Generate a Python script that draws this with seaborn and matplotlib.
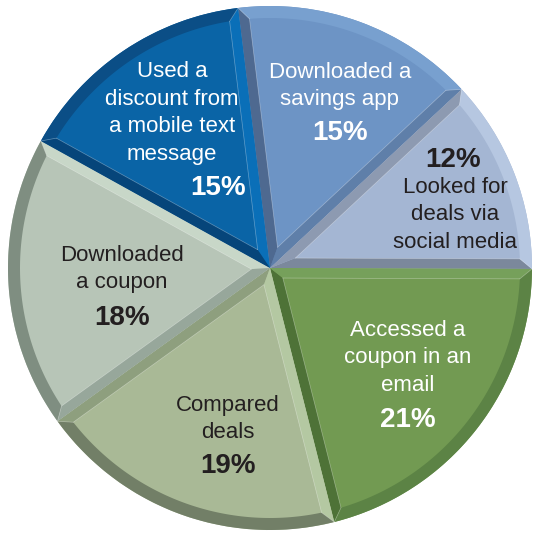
import numpy as np
import matplotlib
matplotlib.use("Agg")
import matplotlib.pyplot as plt
from matplotlib.patches import Polygon
import seaborn as sns

sns.set_theme(style="white")
plt.rcParams['font.family'] = ['Liberation Sans Narrow', 'Liberation Sans', 'DejaVu Sans']

# ---- data (clockwise from the top) ----
categories = ["Downloaded a\nsavings app", "Looked for\ndeals via\nsocial media",
              "Accessed a\ncoupon in an\nemail", "Compared\ndeals",
              "Downloaded\na coupon", "Used a\ndiscount from\na mobile text\nmessage"]
values = [15, 12, 21, 19, 18, 15]
pct_labels = ["15%", "12%", "21%", "19%", "18%", "15%"]

# ---- styles ----
face_colors = ["#6d94c5", "#a4b6d3", "#729a52", "#a9b996", "#b7c5b7", "#0a64a6"]
rim_colors = ["#78a0cf", "#b6c7e1", "#5c8345", "#727f67", "#7f8e81", "#0b4e86"]
side1_colors = ["#5f7fa9", "#7b889c", "#4e7237", "#8e9f7e", "#c8d7c8", "#0a6fb8"]  # at theta1
side2_colors = ["#4e6990", "#8d9ab1", "#76a05b", "#b4c8a2", "#97a79b", "#06457a"]  # at theta2
text_colors = ["white", "#231f20", "white", "#231f20", "#231f20", "white"]
# label layout (pixel centres, y measured from top)
label_pos = [(340, 86), (455, 215), (408, 358), (228, 419), (122, 269), (172, 113)]
pct_pos = [(340, 133), (453, 160), (408, 420), (228, 466), (122, 318), (218, 188)]

W = 535
cx, cy, R = 270, W - 268, 262
rim_w, side_w = 12, 10

fig = plt.figure(figsize=(5.35, 5.35), dpi=100)
ax = fig.add_axes([0, 0, 1, 1])
wedges, _ = ax.pie(values, colors=face_colors, startangle=97, counterclock=False,
                   center=(cx, cy), radius=R, wedgeprops=dict(linewidth=0))


def u(deg):
    a = np.deg2rad(deg)
    return np.array([np.cos(a), np.sin(a)])


O = np.array([cx, cy], dtype=float)
for i, w in enumerate(wedges):
    t1, t2 = w.theta1, w.theta2
    half = np.deg2rad(t2 - t1) / 2
    mid = (t1 + t2) / 2
    A = O + side_w / np.sin(half) * u(mid)
    off = np.rad2deg(np.arcsin(side_w / (R - rim_w)))
    C1, C2 = O + R * u(t1), O + R * u(t2)
    P1, P2 = O + (R - rim_w) * u(t1 + off), O + (R - rim_w) * u(t2 - off)
    ax.add_patch(Polygon([O, C1, P1, A], closed=True, fc=side1_colors[i], ec="none"))
    ax.add_patch(Polygon([O, A, P2, C2], closed=True, fc=side2_colors[i], ec="none"))
    outer = [O + R * u(t) for t in np.linspace(t1, t2, 80)]
    inner = [O + (R - rim_w) * u(t) for t in np.linspace(t2 - off, t1 + off, 80)]
    ax.add_patch(Polygon(outer + inner, closed=True, fc=rim_colors[i], ec="none"))
    # thin highlight lines at bevel corners
    for a_, b_ in [(C1, P1), (C2, P2), (P1, A), (P2, A)]:
        ax.plot([a_[0], b_[0]], [a_[1], b_[1]], color="white", lw=0.5, alpha=0.35)

for i in range(len(values)):
    lx, ly = label_pos[i]
    px, py = pct_pos[i]
    ax.text(lx, W - ly, categories[i], ha="center", va="center", fontsize=16,
            color=text_colors[i], linespacing=1.4)
    ax.text(px, W - py, pct_labels[i], ha="center", va="center", fontsize=20,
            fontweight="bold", color=text_colors[i])

ax.set_xlim(0, W)
ax.set_ylim(0, W)
ax.set_aspect("equal")
ax.axis("off")
fig.savefig("out.png", dpi=100)
